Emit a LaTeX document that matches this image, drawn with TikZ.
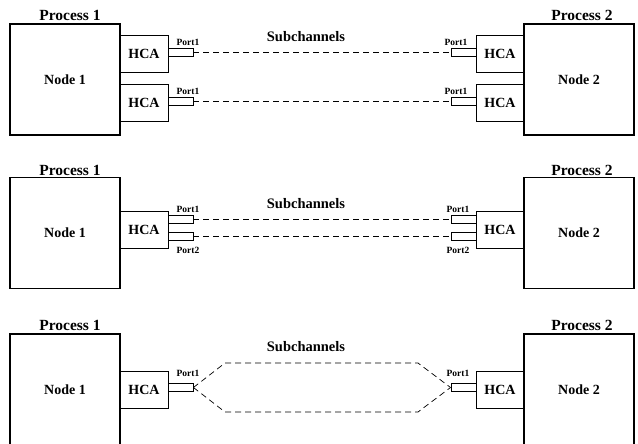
\documentclass[tikz,border=0pt]{standalone}
\usepackage{fontspec}
\setmainfont{Liberation Serif}
\usetikzlibrary{positioning}

\begin{document}
\begin{tikzpicture}[x=1pt,y=-1pt,
    host/.style={draw,line width=1.3pt,minimum width=110pt,minimum height=111pt,
      inner sep=0pt,font=\bfseries\fontsize{14}{14}\selectfont},
    hca/.style={draw,line width=0.8pt,minimum width=48pt,minimum height=37pt,
      inner sep=0pt,font=\bfseries\fontsize{14}{14}\selectfont},
    port/.style={draw,line width=0.9pt,minimum width=25pt,minimum height=8pt,inner sep=0pt},
    plabel/.style={font=\bfseries\fontsize{9.5}{9.5}\selectfont,inner sep=0pt},
    title/.style={font=\bfseries\fontsize{15.5}{15.5}\selectfont,inner sep=0pt},
    chan/.style={dash pattern=on 6pt off 4pt,line width=0.7pt}]
  \useasboundingbox (0,0) rectangle (638,444);

  % two HCAs, one port each
  \node[title] (t1a) at (70,15) {Process 1};
  \node[title] (t1b) at (582,15) {Process 2};
  \node[host] (n1a) at (65,79.5) {Node 1};
  \node[host] (n1b) at (579,79.5) {Node 2};
  \node[hca] (h1a) at (144,53.5) {HCA};
  \node[hca] (h1b) at (144,103) {HCA};
  \node[hca] (h1c) at (500,53.5) {HCA};
  \node[hca] (h1d) at (500,103) {HCA};
  \node[port] (p1a) at (180.5,52) {};
  \node[port] (p1b) at (180.5,101) {};
  \node[port] (p1c) at (463.5,52) {};
  \node[port] (p1d) at (463.5,101) {};
  \node[plabel] (l1a) at (188,42) {Port1};
  \node[plabel] (l1b) at (188,91) {Port1};
  \node[plabel] (l1c) at (456,42) {Port1};
  \node[plabel] (l1d) at (456,91) {Port1};
  \node[title,font=\bfseries\fontsize{14.5}{14.5}\selectfont] (s1) at (306,37) {Subchannels};
  \draw[chan] (p1a.east) -- (p1c.west);
  \draw[chan] (p1b.east) -- (p1d.west);

  % one HCA, two ports
  \node[title] (t2a) at (70,170) {Process 1};
  \node[title] (t2b) at (582,170) {Process 2};
  \node[host] (n2a) at (65,233) {Node 1};
  \node[host] (n2b) at (579,233) {Node 2};
  \node[hca] (h2a) at (144,229.5) {HCA};
  \node[hca] (h2b) at (500,229.5) {HCA};
  \node[port] (p2a) at (180.5,219) {};
  \node[port] (p2b) at (180.5,236) {};
  \node[port] (p2c) at (463.5,219) {};
  \node[port] (p2d) at (463.5,236) {};
  \node[plabel] (l2a) at (188,209) {Port1};
  \node[plabel] (l2b) at (188,250) {Port2};
  \node[plabel] (l2c) at (458,209) {Port1};
  \node[plabel] (l2d) at (458,250) {Port2};
  \node[title,font=\bfseries\fontsize{14.5}{14.5}\selectfont] (s2) at (306,204) {Subchannels};
  \draw[chan] (p2a.east) -- (p2c.west);
  \draw[chan] (p2b.east) -- (p2d.west);

  % one HCA, one port
  \node[title] (t3a) at (70,325) {Process 1};
  \node[title] (t3b) at (582,325) {Process 2};
  \node[host] (n3a) at (65,389.5) {Node 1};
  \node[host] (n3b) at (579,389.5) {Node 2};
  \node[hca] (h3a) at (144,389.5) {HCA};
  \node[hca] (h3b) at (500,389.5) {HCA};
  \node[port] (p3a) at (180.5,387.5) {};
  \node[port] (p3b) at (463.5,387.5) {};
  \node[plabel] (l3a) at (188,373) {Port1};
  \node[plabel] (l3b) at (458,373) {Port1};
  \node[title,font=\bfseries\fontsize{14.5}{14.5}\selectfont] (s3) at (306,347) {Subchannels};
  \coordinate (c1) at (225,363);
  \coordinate (c2) at (418,363);
  \coordinate (c3) at (225,412);
  \coordinate (c4) at (418,412);
  \draw[chan] (p3a.east) -- (c1) -- (c2) -- (p3b.west);
  \draw[chan] (p3a.east) -- (c3) -- (c4) -- (p3b.west);
\end{tikzpicture}
\end{document}
